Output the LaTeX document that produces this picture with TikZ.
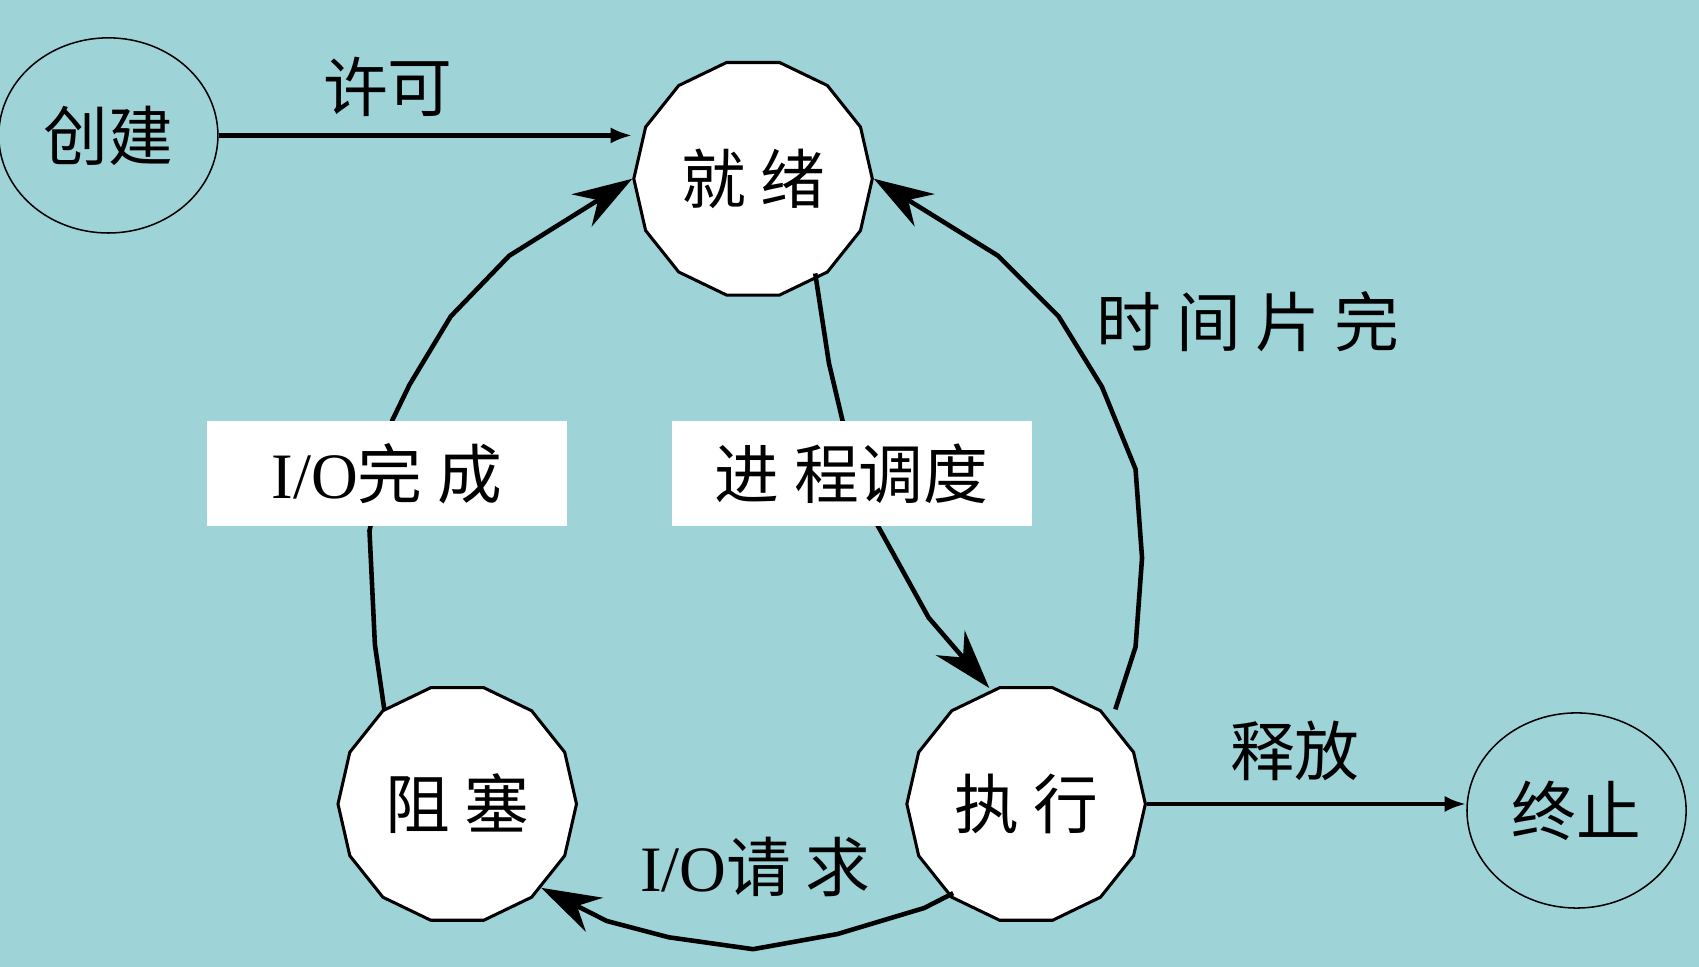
\documentclass[tikz,border=0pt]{standalone}
\usepackage{fontspec}
\setmainfont{Liberation Serif}
\newfontfamily\cjk{Noto Sans CJK SC}
\usetikzlibrary{shapes.geometric, arrows.meta}
\definecolor{bgcol}{RGB}{158,211,216}
\begin{document}
\begin{tikzpicture}[
  x=0.01cm, y=-0.01cm,
  every node/.style={font=\cjk\fontsize{17}{20}\selectfont},
  state/.style={regular polygon, regular polygon sides=14, draw, thick, fill=white, minimum size=2.2cm, inner sep=0pt},
  outer/.style={ellipse, draw, minimum width=1.94cm, minimum height=1.8cm},
  trans/.style={very thick, -{Stealth[length=0.55cm, width=0.35cm]}},
  enter/.style={very thick, -{Latex[length=0.2cm]}},
  tag/.style={fill=white, minimum width=3.32cm, minimum height=0.96cm},
]
\fill[bgcol] (0,0) rectangle (1568,892);
\useasboundingbox (0,0) rectangle (1568,892);

%states
\node[outer] (create) at (100,125) {创建};
\node[state] (ready) at (695,165) {就 绪};
\node[state] (run) at (947,742) {执 行};
\node[state] (block) at (422,742) {阻 塞};
\node[outer] (done) at (1455,748) {终止};

%connectors
\draw[enter] (create.east) -- (ready.west |- create.east);
\draw[enter] (run.east) -- (done.west |- run.east);
\draw[trans] (ready.south east) ++(-0.2cm,-0.1cm) coordinate (r1)
  -- (765,335) -- (778,390) -- (810,485) -- (857,570) -- (913,635);
\draw[trans] (block.north west) ++(0.1cm,0.1cm) coordinate (b1)
  -- (346,595) -- (341,490) -- (362,388) -- (378,355) -- (416,292) -- (470,236) -- (ready.west);
\draw[trans] (run.north east) ++(0.05cm,0.1cm) coordinate (e1)
  -- (1048,597) -- (1054,515) -- (1048,433) -- (1017,357) -- (977,292) -- (921,236) -- (ready.east);
\draw[trans] (run.south west) ++(0.1cm,-0.05cm) coordinate (e2)
  -- (853,838) -- (773,862) -- (695,876) -- (617,865) -- (560,850) -- (block.south east);

%labels
\node (permit) at (358,80) {许可};
\node (free) at (1195,693) {释放};
\node[tag] (iodone) at (357,437) {{\rmfamily I/O}完 成};
\node[tag] (sched) at (786,437) {进 程调度};
\node (slice) at (1152,297) {时 间 片 完};
\node (ioreq) at (697,800) {{\rmfamily I/O}请 求};
\end{tikzpicture}
\end{document}
